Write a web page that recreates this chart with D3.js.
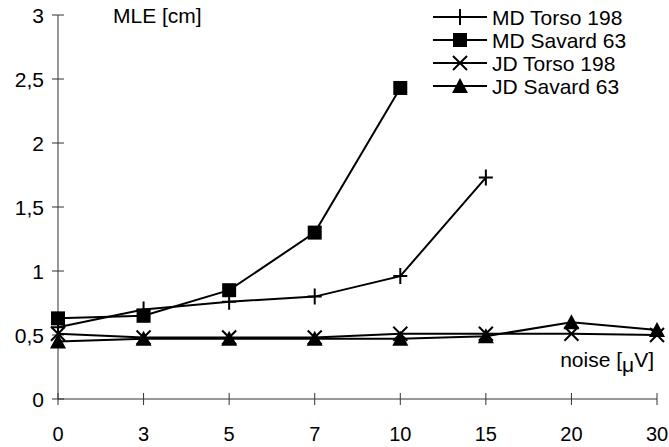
<!DOCTYPE html>
<html>
<head>
<meta charset="utf-8">
<script src="https://cdn.jsdelivr.net/npm/d3@7"></script>
<style>
  body { margin: 0; background: #fff; }
  text { font-family: "Liberation Sans", Arial, sans-serif; fill: #000; }
</style>
</head>
<body>
<div id="chart"></div>
<script>
// noise levels (categorical axis)
const noise = ["0", "3", "5", "7", "10", "15", "20", "30"];
const yTicks = [0, 0.5, 1, 1.5, 2, 2.5, 3];

const mdTorso = [0.56, 0.70, 0.76, 0.80, 0.96, 1.73];
const mdSavard = [0.63, 0.65, 0.85, 1.30, 2.43];
const jdTorso = [0.51, 0.48, 0.48, 0.48, 0.51, 0.51, 0.51, 0.50];
const jdSavard = [0.45, 0.47, 0.47, 0.47, 0.47, 0.49, 0.60, 0.54];

const seriesNames = ["MD Torso 198", "MD Savard 63", "JD Torso 198", "JD Savard 63"];

(() => {
  const width = 669,
    height = 447;

  const svg = d3
    .select("#chart")
    .append("svg")
    .attr("width", width)
    .attr("height", height);

  const x = d3.scalePoint().domain(noise).range([58, 657]);
  const y = d3.scaleLinear().domain([0, 3]).range([399, 15]);

  const series = [
    { name: seriesNames[0], values: mdTorso, marker: "plus" },
    { name: seriesNames[1], values: mdSavard, marker: "square" },
    { name: seriesNames[2], values: jdTorso, marker: "cross" },
    { name: seriesNames[3], values: jdSavard, marker: "triangle" },
  ];

  /********************* Axes *********************/
  const axisColor = "#333";
  // y axis
  svg
    .append("line")
    .attr("x1", x(noise[0]))
    .attr("x2", x(noise[0]))
    .attr("y1", y(3))
    .attr("y2", y(0))
    .attr("stroke", axisColor)
    .attr("stroke-width", 1);

  svg
    .selectAll(".ytick")
    .data(yTicks)
    .enter()
    .append("line")
    .attr("x1", x(noise[0]) - 6)
    .attr("x2", x(noise[0]) + 6)
    .attr("y1", (d) => y(d))
    .attr("y2", (d) => y(d))
    .attr("stroke", axisColor);

  svg
    .selectAll(".ylabel")
    .data(yTicks)
    .enter()
    .append("text")
    .attr("x", x(noise[0]) - 14)
    .attr("y", (d) => y(d) + 8)
    .attr("text-anchor", "end")
    .style("font-size", "21px")
    .text((d) => String(d).replace(".", ","));

  // x axis
  svg
    .append("line")
    .attr("x1", x(noise[0]))
    .attr("x2", x(noise[noise.length - 1]))
    .attr("y1", y(0))
    .attr("y2", y(0))
    .attr("stroke", axisColor);

  svg
    .selectAll(".xtick")
    .data(noise)
    .enter()
    .append("line")
    .attr("x1", (d) => x(d))
    .attr("x2", (d) => x(d))
    .attr("y1", y(0) - 6)
    .attr("y2", y(0) + 6)
    .attr("stroke", axisColor);

  svg
    .selectAll(".xlabel")
    .data(noise)
    .enter()
    .append("text")
    .attr("x", (d) => x(d))
    .attr("y", 441)
    .attr("text-anchor", "middle")
    .style("font-size", "20px")
    .text((d) => d);

  // axis titles
  svg
    .append("text")
    .attr("x", 113)
    .attr("y", 23)
    .style("font-size", "21px")
    .text("MLE [cm]");

  const nt = svg
    .append("text")
    .attr("x", 654)
    .attr("y", 367)
    .attr("text-anchor", "end")
    .style("font-size", "21px");
  nt.append("tspan").text("noise [");
  nt.append("tspan").attr("dy", 5).text("μ");
  nt.append("tspan").attr("dy", -5).text("V]");

  /********************* Markers *********************/
  function drawMarker(g, type, cx, cy) {
    if (type === "plus") {
      g.append("path")
        .attr("d", `M${cx - 7},${cy}H${cx + 7}M${cx},${cy - 8}V${cy + 8}`)
        .attr("stroke", "#000")
        .attr("stroke-width", 2)
        .attr("fill", "none");
    } else if (type === "square") {
      g.append("rect")
        .attr("x", cx - 7)
        .attr("y", cy - 7)
        .attr("width", 14)
        .attr("height", 14)
        .attr("fill", "#000");
    } else if (type === "cross") {
      g.append("path")
        .attr("d", `M${cx - 7},${cy - 7}L${cx + 7},${cy + 7}M${cx - 7},${cy + 7}L${cx + 7},${cy - 7}`)
        .attr("stroke", "#000")
        .attr("stroke-width", 2)
        .attr("fill", "none");
    } else {
      g.append("path")
        .attr("d", `M${cx},${cy - 8}L${cx + 8},${cy + 7}L${cx - 8},${cy + 7}Z`)
        .attr("fill", "#000");
    }
  }

  /********************* Series *********************/
  const line = d3
    .line()
    .x((d, i) => x(noise[i]))
    .y((d) => y(d));

  series.forEach((s) => {
    const g = svg.append("g");
    g.append("path")
      .attr("d", line(s.values))
      .attr("fill", "none")
      .attr("stroke", "#000")
      .attr("stroke-width", 2);
    s.values.forEach((v, i) => drawMarker(g, s.marker, x(noise[i]), y(v)));
  });

  /********************* Legend *********************/
  const legend = svg.append("g").attr("transform", "translate(433, 17)");
  series.forEach((s, i) => {
    const ly = i * 23;
    const g = legend.append("g");
    g.append("line")
      .attr("x1", 0)
      .attr("x2", 54)
      .attr("y1", ly)
      .attr("y2", ly)
      .attr("stroke", "#000")
      .attr("stroke-width", 2);
    drawMarker(g, s.marker, 27, ly);
    g.append("text")
      .attr("x", 59)
      .attr("y", ly + 7.5)
      .style("font-size", "21px")
      .text(s.name);
  });
})();
</script>
</body>
</html>
